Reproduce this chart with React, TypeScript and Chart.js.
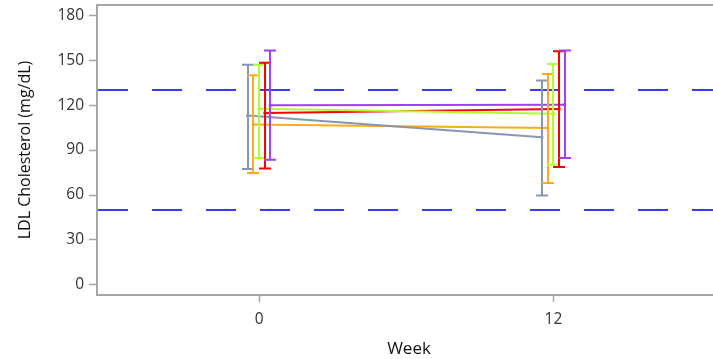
import React, { useEffect, useRef } from "react";
import { Chart, registerables } from "chart.js";

Chart.register(...registerables);

const weeks = [0, 12];
const groupNames = ["Group 1", "Group 2", "Group 3", "Group 4", "Group 5"];
const groupColors = ["#8797b0", "#ffaa1c", "#adff2f", "#ff0000", "#a040f0"];
const groupOffsets = [-0.47, -0.24, 0.0, 0.23, 0.45];

const meanG1 = [113, 98.5];
const meanG2 = [107, 104.7];
const meanG3 = [117.6, 114.3];
const meanG4 = [114.8, 117.4];
const meanG5 = [119.9, 120.3];

const upperG1 = [147, 136.4];
const upperG2 = [140, 140.8];
const upperG3 = [147, 147.5];
const upperG4 = [148.2, 156];
const upperG5 = [156.4, 156.4];

const lowerG1 = [77.3, 59.7];
const lowerG2 = [74.7, 68];
const lowerG3 = [84.7, 80.2];
const lowerG4 = [77.7, 78.7];
const lowerG5 = [83.6, 84.7];

const yTicks = [0, 30, 60, 90, 120, 150, 180];
const xTicks = [0, 12];
const refLines = [130, 50];

const means = [meanG1, meanG2, meanG3, meanG4, meanG5];
const uppers = [upperG1, upperG2, upperG3, upperG4, upperG5];
const lowers = [lowerG1, lowerG2, lowerG3, lowerG4, lowerG5];

const FONT = "'Open Sans', 'Noto Sans', sans-serif";

export default function App() {
  const ref = useRef<HTMLCanvasElement | null>(null);

  useEffect(() => {
    if (!ref.current) return;

    const framePlugin = {
      id: "frameAndRefs",
      beforeDatasetsDraw(chart: any) {
        const { ctx, chartArea, scales } = chart;
        ctx.save();
        ctx.strokeStyle = "#a6a6a6";
        ctx.lineWidth = 2;
        ctx.beginPath();
        ctx.moveTo(chartArea.left, chartArea.top);
        ctx.lineTo(chartArea.right, chartArea.top);
        ctx.stroke();
        ctx.strokeStyle = "#3a3aff";
        ctx.lineWidth = 2;
        ctx.setLineDash([30, 24]);
        refLines.forEach((v) => {
          const y = Math.round(scales.y.getPixelForValue(v));
          ctx.beginPath();
          ctx.moveTo(chartArea.left + 1, y);
          ctx.lineTo(chartArea.right, y);
          ctx.stroke();
        });
        ctx.setLineDash([]);
        ctx.restore();
      },
      afterDatasetsDraw(chart: any) {
        const { ctx, scales } = chart;
        ctx.save();
        ctx.lineWidth = 2;
        groupNames.forEach((_, gi) => {
          ctx.strokeStyle = groupColors[gi];
          weeks.forEach((w, wi) => {
            const x = Math.round(scales.x.getPixelForValue(w + groupOffsets[gi]));
            const yTop = scales.y.getPixelForValue(uppers[gi][wi]);
            const yBot = scales.y.getPixelForValue(lowers[gi][wi]);
            ctx.beginPath();
            ctx.moveTo(x, yTop);
            ctx.lineTo(x, yBot);
            ctx.moveTo(x - 6, yTop);
            ctx.lineTo(x + 6, yTop);
            ctx.moveTo(x - 6, yBot);
            ctx.lineTo(x + 6, yBot);
            ctx.stroke();
          });
        });
        ctx.restore();
      },
    };

    const chart = new Chart(ref.current, {
      type: "line",
      data: {
        datasets: groupNames.map((name, gi) => ({
          label: name,
          data: weeks.map((w, wi) => ({ x: w + groupOffsets[gi], y: means[gi][wi] })),
          borderColor: groupColors[gi],
          backgroundColor: groupColors[gi],
          borderWidth: 2,
          pointStyle: "rect",
          pointRadius: 2,
          pointBorderWidth: 0,
          tension: 0,
        })),
      },
      options: {
        animation: false,
        responsive: false,
        maintainAspectRatio: false,
        layout: { padding: { left: 0, top: 5, right: 4, bottom: 0 } },
        plugins: {
          legend: { display: false },
          tooltip: { enabled: false },
        },
        scales: {
          x: {
            type: "linear",
            min: -6.61,
            max: 18.83,
            afterBuildTicks: (s: any) => {
              s.ticks = xTicks.map((v) => ({ value: v }));
            },
            afterFit: (s: any) => {
              s.height = 64;
              s.paddingLeft = 0;
              s.paddingRight = 0;
            },
            grid: {
              drawOnChartArea: false,
              drawTicks: true,
              tickLength: 7,
              tickWidth: 1.5,
              color: "#a6a6a6",
            },
            border: { display: true, color: "#a6a6a6", width: 2 },
            ticks: {
              padding: 8,
              color: "#333333",
              font: { family: FONT, size: 15.5 },
              maxRotation: 0,
            },
            title: {
              display: true,
              text: "Week",
              color: "#111111",
              font: { family: FONT, size: 17 },
              padding: { top: 0, bottom: 0 },
            },
          },
          y: {
            type: "linear",
            min: -6.7,
            max: 186.8,
            afterBuildTicks: (s: any) => {
              s.ticks = yTicks.map((v) => ({ value: v }));
            },
            afterFit: (s: any) => {
              s.width = 97;
              s.paddingTop = 0;
              s.paddingBottom = 0;
            },
            grid: {
              drawOnChartArea: false,
              drawTicks: true,
              tickLength: 8,
              tickWidth: 1.5,
              color: "#a6a6a6",
            },
            border: { display: true, color: "#a6a6a6", width: 2 },
            ticks: {
              padding: 5,
              color: "#333333",
              font: { family: FONT, size: 15.5 },
            },
            title: {
              display: true,
              text: "LDL Cholesterol (mg/dL)",
              color: "#111111",
              font: { family: FONT, size: 16 },
              padding: { top: 16, bottom: 0 },
            },
          },
        },
      },
      plugins: [framePlugin],
    } as any);

    return () => chart.destroy();
  }, []);

  return (
    <div
      style={{
        position: "absolute",
        left: 0,
        top: 0,
        width: 713,
        height: 359,
        overflow: "hidden",
        background: "#ffffff",
      }}
    >
      <canvas ref={ref} width={725} height={359} style={{ width: 725, height: 359, display: "block" }} />
    </div>
  );
}
